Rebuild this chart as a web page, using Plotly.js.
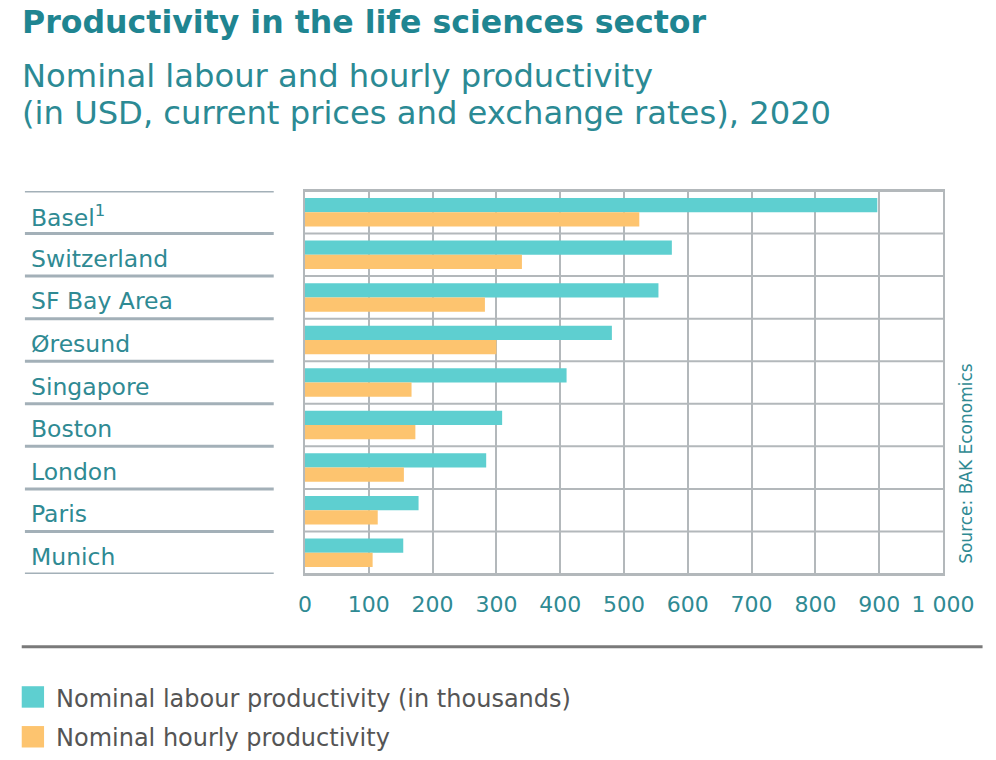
<!DOCTYPE html>
<html><head><meta charset="utf-8">
<script src="https://cdn.plot.ly/plotly-3.0.1.min.js"></script>
<style>body{margin:0;background:#fff}#chart{width:996px;height:760px}</style>
</head><body><div id="chart"></div>
<script>
const categories = ["Basel<sup>1</sup>", "Switzerland", "SF Bay Area", "Øresund", "Singapore", "Boston", "London", "Paris", "Munich"];
const labourProductivity = [897, 575, 554, 481, 410, 309, 284, 178, 154];
const hourlyProductivity = [524, 340, 282, 300, 167, 173, 155, 114, 106];
const seriesNames = ["Nominal labour productivity (in thousands)", "Nominal hourly productivity"];
const tickVals = [0, 100, 200, 300, 400, 500, 600, 700, 800, 900, 1000];
const tickText = ["0", "100", "200", "300", "400", "500", "600", "700", "800", "900", "1 000"];
const titleText = "Productivity in the life sciences sector";
const subtitleLines = ["Nominal labour and hourly productivity", "(in USD, current prices and exchange rates), 2020"];
const sourceText = "Source: BAK Economics";

const teal = "#5ecfd0", orange = "#fdc46f", textTeal = "#2f8a93", grid = "#b3b8bb";

const traces = [
  {type: "bar", orientation: "h", y: categories, x: labourProductivity, name: seriesNames[0],
   marker: {color: teal}, hoverinfo: "x"},
  {type: "bar", orientation: "h", y: categories, x: hourlyProductivity, name: seriesNames[1],
   marker: {color: orange}, hoverinfo: "x"}
];

const shapes = [];
const annotations = [];
for (let i = 0; i <= categories.length; i++) {
  const yv = i - 0.5;
  shapes.push({type: "line", xref: "paper", yref: "y", x0: 0, x1: 1, y0: yv, y1: yv,
    line: {color: grid, width: 2}, layer: "above"});
  shapes.push({type: "line", xref: "paper", yref: "y", x0: -0.439, x1: -0.049, y0: yv, y1: yv,
    line: {color: "#a3b0b8", width: 3}});
}
categories.forEach((c, i) => {
  annotations.push({xref: "paper", yref: "y", x: -0.433, y: i, text: c, showarrow: false,
    xanchor: "left", yanchor: "middle", yshift: -4,
    font: {family: "DejaVu Sans", size: 23.5, color: textTeal}});
});
shapes.push({type: "line", xref: "paper", yref: "paper", x0: -0.444, x1: 1.062, y0: -0.19, y1: -0.19,
  line: {color: "#7a7a7a", width: 3}});
const legendColors = [teal, orange];
seriesNames.forEach((n, i) => {
  const yc = -0.321 - i * 0.104;
  shapes.push({type: "rect", xref: "paper", yref: "paper", x0: -0.444, x1: -0.409,
    y0: yc - 0.028, y1: yc + 0.028, fillcolor: legendColors[i], line: {width: 0}});
  annotations.push({xref: "paper", yref: "paper", x: -0.394, y: yc, yshift: -2 + i, text: n, showarrow: false,
    xanchor: "left", yanchor: "middle", font: {family: "DejaVu Sans", size: 24, color: "#555"}});
});
annotations.push({xref: "paper", yref: "paper", x: -0.447, y: 1.0, yshift: 169, text: "<b>" + titleText + "</b>",
  showarrow: false, xanchor: "left", yanchor: "middle", font: {family: "DejaVu Sans", size: 31.6, color: "#1f8591"}});
subtitleLines.forEach((s, i) => {
  annotations.push({xref: "paper", yref: "paper", x: -0.447, y: 1.0, yshift: 115 - 37 * i, text: s,
    showarrow: false, xanchor: "left", yanchor: "middle",
    font: {family: "DejaVu Sans", size: 32.2, color: "#2b8a94"}});
});
annotations.push({xref: "paper", yref: "paper", x: 1.035, y: 0.0, yshift: 8, text: sourceText, textangle: -90,
  showarrow: false, xanchor: "center", yanchor: "bottom", font: {family: "DejaVu Sans", size: 17, color: textTeal}});

const layout = {
  width: 996, height: 760,
  margin: {l: 305, r: 53, t: 191, b: 186},
  paper_bgcolor: "#fff", plot_bgcolor: "#fff",
  barmode: "group", bargap: 0.33, bargroupgap: 0,
  showlegend: false,
  xaxis: {range: [0, 1000], tickvals: tickVals, ticktext: tickText, showgrid: true, gridcolor: grid, gridwidth: 2,
    zeroline: false, showline: true, linecolor: grid, linewidth: 2, mirror: true, ticks: "",
    ticklabelstandoff: 10, tickfont: {family: "DejaVu Sans", size: 22, color: textTeal}},
  yaxis: {range: [8.5, -0.5], showticklabels: false, showgrid: false, zeroline: false,
    showline: true, linecolor: grid, linewidth: 2, mirror: true, ticks: ""},
  shapes: shapes, annotations: annotations
};
Plotly.newPlot("chart", traces, layout, {displayModeBar: false, staticPlot: true});
</script></body></html>
